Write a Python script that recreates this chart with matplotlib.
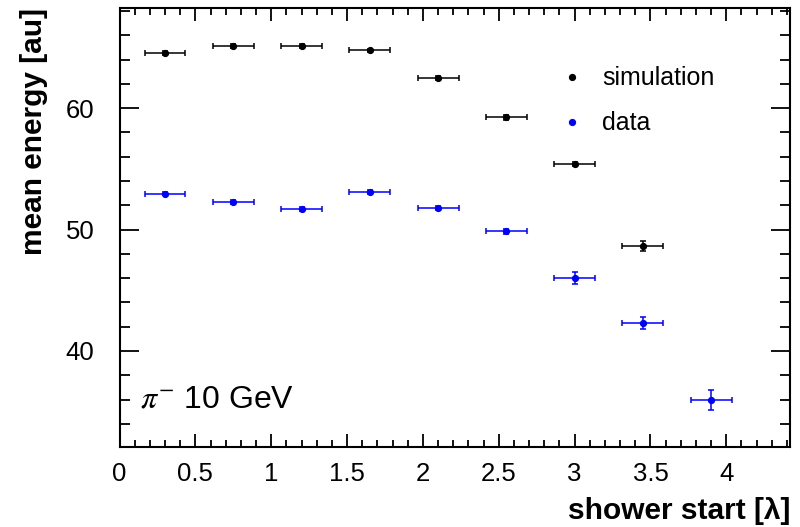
import numpy as np
import matplotlib
matplotlib.use('Agg')
import matplotlib.pyplot as plt
from matplotlib.ticker import MultipleLocator
from matplotlib.lines import Line2D

plt.rcParams['font.family'] = ['Liberation Sans', 'DejaVu Sans']
plt.rcParams['mathtext.fontset'] = 'stix'

# shower start bins
x_sim = [0.3, 0.75, 1.2, 1.65, 2.1, 2.55, 3.0, 3.45]
x_data = [0.3, 0.75, 1.2, 1.65, 2.1, 2.55, 3.0, 3.45, 3.9]
x_halfwidth = 0.135

# mean energy
y_sim = [64.56, 65.1, 65.1, 64.75, 62.5, 59.24, 55.4, 48.63]
y_sim_err = [0.15, 0.15, 0.15, 0.15, 0.15, 0.2, 0.2, 0.4]
y_data = [52.96, 52.25, 51.7, 53.07, 51.75, 49.85, 46.02, 42.32, 35.97]
y_data_err = [0.15, 0.15, 0.15, 0.15, 0.15, 0.2, 0.5, 0.5, 0.8]

fig = plt.figure(figsize=(8.0, 5.27), dpi=100)
ax = fig.add_axes([119.5 / 800, 80.5 / 527, 670.5 / 800, 438.5 / 527])

ax.errorbar(x_sim, y_sim, xerr=x_halfwidth, yerr=y_sim_err, fmt='o', color='black',
            markersize=4.2, elinewidth=1.1, capsize=2.2, capthick=1.1)
ax.errorbar(x_data, y_data, xerr=x_halfwidth, yerr=y_data_err, fmt='o', color='#0000ff',
            markersize=4.2, elinewidth=1.1, capsize=2.2, capthick=1.1)

ax.set_xlim(0, 4.42)
ax.set_ylim(32.13, 68.25)

ax.xaxis.set_minor_locator(MultipleLocator(0.1))
ax.yaxis.set_major_locator(MultipleLocator(10))
ax.yaxis.set_minor_locator(MultipleLocator(2))
ax.set_xticks([0, 0.5, 1, 1.5, 2, 2.5, 3, 3.5, 4])
ax.set_xticklabels(['0', '0.5', '1', '1.5', '2', '2.5', '3', '3.5', '4'])

ax.tick_params(axis='both', which='both', direction='in', top=True, right=True,
               width=1.3, labelsize=18.5)
ax.tick_params(axis='x', which='major', length=9.5, pad=11)
ax.tick_params(axis='x', which='minor', length=4.8)
ax.tick_params(axis='y', which='major', length=14, pad=18)
ax.tick_params(axis='y', which='minor', length=7)
for s in ax.spines.values():
    s.set_linewidth(1.5)

ax.set_xlabel('shower start [λ]', fontsize=21.5, fontweight='bold', loc='right', labelpad=8)
ax.set_ylabel('mean energy [au]', fontsize=21.5, fontweight='bold', loc='top', labelpad=13)

ax.text(0.03, 0.09, r'$\pi^{-}$ 10 GeV', transform=ax.transAxes, fontsize=23)

handles = [Line2D([], [], ls='none', marker='o', color='black', markersize=4.2),
           Line2D([], [], ls='none', marker='o', color='#0000ff', markersize=4.2)]
ax.legend(handles, ['simulation', 'data'], loc='upper left', bbox_to_anchor=(0.619, 0.918),
          frameon=False, fontsize=18, handletextpad=0.6, labelspacing=0.84, handlelength=1.2)

fig.savefig('out.png', dpi=100)
